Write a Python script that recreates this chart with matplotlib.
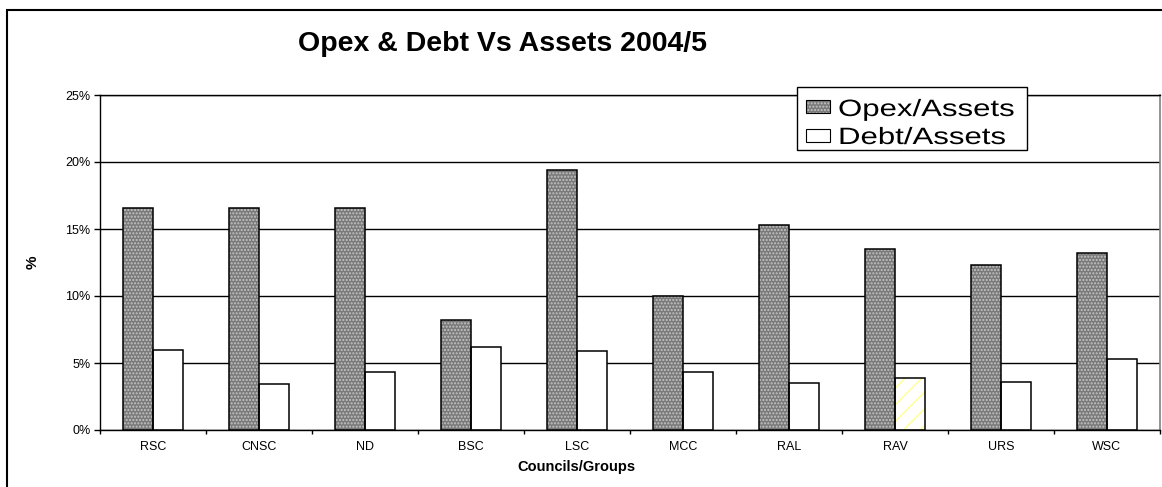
import numpy as np
import matplotlib
matplotlib.use('Agg')
import matplotlib.pyplot as plt
from matplotlib.patches import Rectangle
from matplotlib.patheffects import AbstractPathEffect
from matplotlib.transforms import Affine2D
from matplotlib.ticker import FuncFormatter, FixedLocator


COUNCILS = ['RSC', 'CNSC', 'ND', 'BSC', 'LSC', 'MCC', 'RAL', 'RAV', 'URS', 'WSC']
OPEX_ASSETS = [16.6, 16.6, 16.6, 8.2, 19.4, 10.0, 15.3, 13.5, 12.3, 13.2]
DEBT_ASSETS = [6.0, 3.4, 4.3, 6.2, 5.9, 4.3, 3.5, 3.9, 3.6, 5.3]
Y_TICKS = [0, 5, 10, 15, 20, 25]
SERIES = ['Opex/Assets', 'Debt/Assets']

TITULO = 'Opex & Debt Vs Assets 2004/5'
DESTAQUE = 'RAV'

LARGURA = 1 / 3.5
COR_OPEX = '#7a7a7a'
COR_PONTOS = '#c4c4c4'


class Esticar(AbstractPathEffect):
    """Estica o texto na horizontal a partir do seu ponto de ancoragem."""

    def __init__(self, sx):
        super().__init__()
        self.sx = sx

    def draw_path(self, renderer, gc, tpath, affine, rgbFace=None):
        x0 = affine.get_matrix()[0, 2]
        t = affine + Affine2D().translate(-x0, 0).scale(self.sx, 1).translate(x0, 0)
        renderer.draw_path(gc, tpath, t, rgbFace)


plt.rcParams['font.family'] = ['Liberation Sans', 'DejaVu Sans']

fig = plt.figure(figsize=(11.62, 4.87), dpi=100)
W, H = 1162, 487


def caixa_px(x0, y0, x1, y1, **kw):
    # retângulo em pixels (y medido a partir do topo)
    return Rectangle((x0 / W, 1 - y1 / H), (x1 - x0) / W, (y1 - y0) / H,
                     transform=fig.transFigure, **kw)


# moldura externa do gráfico (cortada à direita e em baixo)
fig.patches.append(Rectangle((7 / W, -0.1), 1.2, 1 - 9.5 / H + 0.1,
                             transform=fig.transFigure, fill=False,
                             edgecolor='black', linewidth=1.5))

ax = fig.add_axes([100 / W, (H - 430) / H, 1060 / W, 335 / H])

x = np.arange(len(COUNCILS))

# Opex/Assets: fundo cinza com pontos + contorno preto
ax.bar(x - LARGURA / 2, OPEX_ASSETS, LARGURA, color=COR_OPEX,
       edgecolor=COR_PONTOS, hatch='.....', linewidth=0, zorder=2)
ax.bar(x - LARGURA / 2, OPEX_ASSETS, LARGURA, fill=False,
       edgecolor='black', linewidth=1.1, zorder=3)

# Debt/Assets: branco, com a barra destacada em amarelo listrado
hatches = ['//' if c == DESTAQUE else '' for c in COUNCILS]
for xi, valor, h in zip(x, DEBT_ASSETS, hatches):
    ax.bar(xi + LARGURA / 2, valor, LARGURA, color='white',
           edgecolor='#ffff90', hatch=h, linewidth=0, zorder=2)
ax.bar(x + LARGURA / 2, DEBT_ASSETS, LARGURA, fill=False,
       edgecolor='black', linewidth=1.1, zorder=3)

ax.set_xlim(-0.5, len(COUNCILS) - 0.5)
ax.set_ylim(0, 25)
ax.set_yticks(Y_TICKS)
ax.yaxis.set_major_formatter(FuncFormatter(lambda v, p: f'{v:.0f}%'))
ax.yaxis.grid(True, color='black', linewidth=1)
ax.set_axisbelow(True)

ax.set_xticks(x)
ax.set_xticklabels(COUNCILS)
ax.xaxis.set_minor_locator(FixedLocator(np.arange(-0.5, len(COUNCILS), 1.0)))
ax.tick_params(axis='x', which='major', length=0, pad=8, labelsize=9)
ax.tick_params(axis='x', which='minor', length=3, width=1, direction='out')
ax.tick_params(axis='y', length=4, width=1, pad=3, labelsize=9)

for lado in ['left', 'bottom', 'top']:
    ax.spines[lado].set_color('black')
    ax.spines[lado].set_linewidth(1)
ax.spines['right'].set_color('#808080')
ax.spines['right'].set_linewidth(1.2)

ax.set_ylabel('%', fontweight='bold', fontsize=11)
ax.yaxis.set_label_coords(-(100 - 40) / 1060, 0.5)
ax.set_xlabel('Councils/Groups', fontweight='bold', fontsize=10.5)
ax.xaxis.set_label_coords((576 - 100) / 1060, -(460 - 430) / 335)

fig.text(502 / W, 1 - 44 / H, TITULO, ha='center', va='center',
         fontsize=20.5, fontweight='bold')

# legenda desenhada à mão (texto largo como no original)
fig.patches.append(caixa_px(797, 87, 1027, 150, facecolor='white',
                            edgecolor='black', linewidth=1, zorder=5))
fig.patches.append(caixa_px(806, 100, 830, 113, facecolor=COR_OPEX,
                            edgecolor=COR_PONTOS, hatch='.....', linewidth=0, zorder=6))
fig.patches.append(caixa_px(806, 100, 830, 113, fill=False,
                            edgecolor='black', linewidth=0.8, zorder=7))
fig.patches.append(caixa_px(806, 129, 830, 142, facecolor='white',
                            edgecolor='black', linewidth=0.8, zorder=6))
for nome, base in zip(SERIES, [116, 144]):
    fig.text(838 / W, 1 - base / H, nome, ha='left', va='baseline',
             fontsize=17, zorder=7, path_effects=[Esticar(1.32)])

fig.savefig('out.png', dpi=100)
